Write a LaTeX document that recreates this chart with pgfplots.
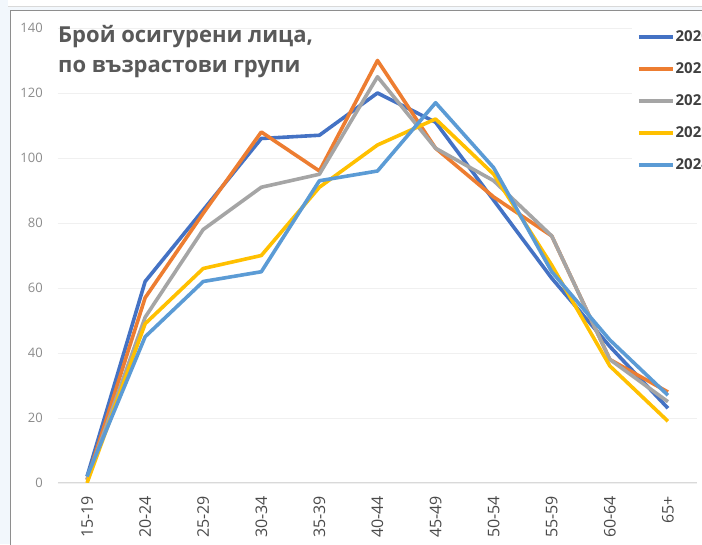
\documentclass[border=0pt]{standalone}
\usepackage{pgfplots}
\pgfplotsset{compat=1.18}
\usepackage{fontspec}
\setmainfont{Open Sans}
\definecolor{c2020}{HTML}{4472C4}
\definecolor{c2021}{HTML}{ED7D31}
\definecolor{c2022}{HTML}{A5A5A5}
\definecolor{c2023}{HTML}{FFC000}
\definecolor{c2024}{HTML}{5B9BD5}
\definecolor{titlegray}{HTML}{595959}
\definecolor{xtickgray}{HTML}{4A4A4A}
\definecolor{tickgray}{HTML}{8C8C8C}
\definecolor{gridgray}{HTML}{F0F0F0}
\definecolor{axisgray}{HTML}{D9D9D9}
\definecolor{framegray}{HTML}{8E8E8E}
\definecolor{sidebg}{HTML}{F2F7FC}

\begin{document}
\begin{tikzpicture}
\clip (0pt,0pt) rectangle (702pt,544pt);
% window background and frame
\fill[sidebg] (0pt,0pt) rectangle (702pt,544pt);
\fill[white] (8pt,537pt) rectangle (702pt,544pt);
\draw[axisgray, line width=1pt] (8pt,537pt) -- (702pt,537pt);
\fill[white] (10pt,0pt) rectangle (702pt,533pt);
\draw[framegray, line width=1pt] (10pt,-5pt) -- (10pt,533pt) -- (710pt,533pt);

\begin{axis}[
  at={(58pt,61pt)}, anchor=south west, scale only axis,
  width=639pt, height=455pt,
  xmin=-0.5, xmax=10.5, ymin=0, ymax=140,
  axis x line=bottom, axis y line=left,
  x axis line style={draw=axisgray, line width=1pt, -},
  y axis line style={draw=none},
  major tick length=0pt,
  ytick={0,20,...,140},
  ymajorgrids, grid style={gridgray, line width=0.8pt},
  xtick={0,...,10},
  xticklabels={15-19,20-24,25-29,30-34,35-39,40-44,45-49,50-54,55-59,60-64,65+},
  xticklabel style={rotate=90, anchor=east, inner xsep=13pt, inner ysep=0pt,
    font=\fontsize{16}{18}\selectfont, text=xtickgray},
  yticklabel style={anchor=east, inner sep=0pt, xshift=-15pt,
    font=\fontsize{13}{15}\selectfont, text=tickgray},
  /pgf/number format/assume math mode=true,
  every axis plot/.append style={line width=3.6pt, line join=round, mark=none},
  legend image code/.code={\draw[#1] (0pt,0pt) -- (34pt,0pt);},
  legend cell align=left,
  legend style={at={(0.898,1)}, anchor=north west, draw=none, fill=white,
    inner xsep=5pt, inner ysep=2pt, row sep=18pt,
    /tikz/every even column/.style={column sep=0pt},
    nodes={font=\fontsize{15}{17}\selectfont\bfseries, text=darkgray,
      text height=11pt, text depth=3pt, inner xsep=1pt, inner ysep=0pt}},
]
\addplot[c2020] coordinates {(0,2) (1,62) (2,84) (3,106) (4,107) (5,120) (6,111) (7,87) (8,63) (9,42) (10,23)};
\addlegendentry{2020}
\addplot[c2021] coordinates {(0,1) (1,57) (2,83) (3,108) (4,96) (5,130) (6,103) (7,88) (8,76) (9,38) (10,28)};
\addlegendentry{2021}
\addplot[c2022] coordinates {(0,1) (1,51) (2,78) (3,91) (4,95) (5,125) (6,103) (7,93) (8,76) (9,38) (10,25)};
\addlegendentry{2022}
\addplot[c2023] coordinates {(0,0) (1,49) (2,66) (3,70) (4,91) (5,104) (6,112) (7,95) (8,67) (9,36) (10,19)};
\addlegendentry{2023}
\addplot[c2024] coordinates {(0,2) (1,45) (2,62) (3,65) (4,93) (5,96) (6,117) (7,97) (8,65) (9,44) (10,27)};
\addlegendentry{2024}
\end{axis}

\node[anchor=base west, inner sep=0pt, text=titlegray,
  font=\fontsize{22}{26}\selectfont\bfseries] at (58pt,501pt) {Брой осигурени лица,};
\node[anchor=base west, inner sep=0pt, text=titlegray,
  font=\fontsize{22}{26}\selectfont\bfseries] at (58pt,471pt) {по възрастови групи};
\end{tikzpicture}
\end{document}
